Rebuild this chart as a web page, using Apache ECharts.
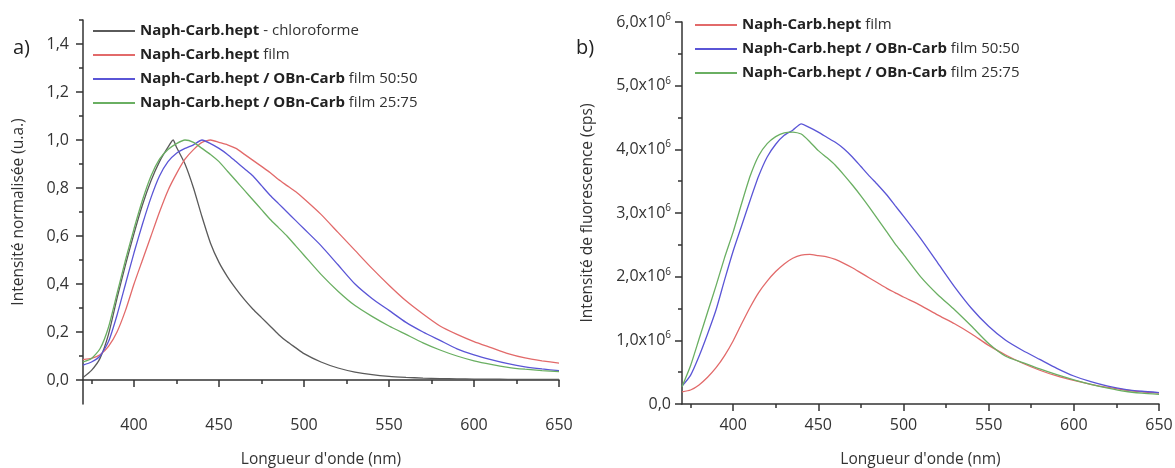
<!DOCTYPE html>
<html><head><meta charset="utf-8">
<script src="https://cdn.jsdelivr.net/npm/echarts@6/dist/echarts.min.js"></script>
<style>html,body{margin:0;padding:0;background:#fff}#c{width:1175px;height:468px}</style>
</head><body><div id="c"></div>
<script>
// Wavelengths (nm)
const wavelengths = [370,375,380,385,390,395,400,405,410,415,420,425,430,435,440,445,450,455,460,465,470,475,480,485,490,495,500,510,520,530,540,550,560,570,580,590,600,610,620,630,640,650];
const chloroWavelengths = [370,375,380,385,390,395,400,405,410,415,420,423,425,430,435,440,445,450,455,460,465,470,475,480,485,490,495,500,510,520,530,540,550,560,570,580,590,600,610,620,630,640,650];

// Chart a) normalized intensity
const aChloro = [0.01,0.04,0.09,0.19,0.34,0.48,0.61,0.73,0.83,0.91,0.97,1.0,0.97,0.90,0.80,0.68,0.57,0.49,0.43,0.38,0.335,0.295,0.26,0.225,0.19,0.16,0.135,0.11,0.075,0.05,0.033,0.022,0.015,0.011,0.008,0.006,0.005,0.004,0.004,0.003,0.003,0.003,0.003];
const aFilm = [0.085,0.09,0.105,0.14,0.20,0.29,0.40,0.50,0.60,0.70,0.79,0.86,0.92,0.96,0.99,1.0,0.99,0.98,0.965,0.94,0.915,0.89,0.865,0.835,0.81,0.785,0.755,0.69,0.615,0.54,0.465,0.395,0.33,0.275,0.225,0.19,0.16,0.135,0.11,0.092,0.08,0.07];
const aMix5050 = [0.062,0.075,0.10,0.16,0.27,0.40,0.53,0.65,0.76,0.85,0.91,0.945,0.965,0.98,1.0,0.985,0.965,0.94,0.91,0.88,0.85,0.81,0.77,0.735,0.70,0.665,0.63,0.56,0.48,0.40,0.34,0.29,0.24,0.20,0.165,0.13,0.105,0.085,0.068,0.055,0.046,0.039];
const aMix2575 = [0.075,0.09,0.13,0.22,0.36,0.50,0.63,0.75,0.85,0.92,0.96,0.985,1.0,0.99,0.965,0.94,0.91,0.87,0.83,0.79,0.75,0.71,0.67,0.635,0.60,0.56,0.52,0.44,0.37,0.31,0.265,0.225,0.19,0.155,0.125,0.10,0.08,0.065,0.053,0.045,0.039,0.035];

// Chart b) fluorescence intensity (x10^6 cps)
const bFilm = [0.19,0.22,0.30,0.42,0.57,0.76,0.99,1.26,1.52,1.75,1.93,2.08,2.20,2.29,2.34,2.35,2.33,2.31,2.27,2.21,2.14,2.06,1.98,1.90,1.82,1.75,1.68,1.55,1.40,1.26,1.10,0.92,0.77,0.64,0.53,0.44,0.37,0.31,0.26,0.22,0.19,0.17];
const bMix5050 = [0.28,0.45,0.75,1.10,1.48,1.95,2.40,2.80,3.20,3.58,3.88,4.08,4.22,4.30,4.40,4.34,4.27,4.19,4.11,4.01,3.88,3.73,3.58,3.44,3.29,3.12,2.95,2.60,2.22,1.84,1.50,1.22,1.00,0.84,0.70,0.56,0.44,0.35,0.28,0.23,0.20,0.18];
const bMix2575 = [0.27,0.60,1.02,1.44,1.86,2.30,2.70,3.15,3.58,3.90,4.09,4.20,4.26,4.27,4.24,4.12,3.98,3.87,3.75,3.60,3.44,3.27,3.09,2.90,2.71,2.52,2.35,2.00,1.72,1.48,1.22,0.95,0.75,0.65,0.55,0.46,0.38,0.31,0.25,0.20,0.17,0.15];

const xMajor = [400,450,500,550,600,650];
const xMinor = [375,425,475,525,575,625];
const aYMajor = [0,0.2,0.4,0.6,0.8,1.0,1.2,1.4];
const aYMinor = [0.1,0.3,0.5,0.7,0.9,1.1,1.3,1.5];
const bYMajor = [0,1,2,3,4,5,6];
const bYMinor = [0.5,1.5,2.5,3.5,4.5,5.5];

const names = {
  chloro: 'Naph-Carb.hept - chloroforme',
  film: 'Naph-Carb.hept film',
  m5050: 'Naph-Carb.hept / OBn-Carb film 50:50',
  m2575: 'Naph-Carb.hept / OBn-Carb film 25:75'
};
const legendFmt = {};
legendFmt[names.chloro] = '{b|Naph-Carb.hept} - chloroforme';
legendFmt[names.film] = '{b|Naph-Carb.hept} film';
legendFmt[names.m5050] = '{b|Naph-Carb.hept / OBn-Carb} film 50:50';
legendFmt[names.m2575] = '{b|Naph-Carb.hept / OBn-Carb} film 25:75';

const C = {chloro:'#5a5a5a', film:'#e26a6a', m5050:'#5a55d6', m2575:'#6aaf62'};
const FONT = 'Open Sans';
const AX = '#333';
const TICKFS = 16;
const NAMEFS = 15.5;

function pairs(xs, vals){ return xs.map((w,i)=>[w, vals[i]]); }
function comma(v, d){ return v.toFixed(d).replace('.', ','); }

const chart = echarts.init(document.getElementById('c'), null, {renderer:'canvas'});

const gA = {left:83, top:20, width:476, height:384, containLabel:false, outerBoundsMode:'none'};
const gB = {left:682, top:22, width:477, height:382, containLabel:false, outerBoundsMode:'none'};

function mainX(grid){
  return {type:'value', gridIndex:grid, min:370, max:650, position:'bottom',
     axisLine:{show:true, lineStyle:{color:AX, width:1.5}},
     axisTick:{show:true, length:7, customValues:xMajor, lineStyle:{color:AX, width:1.5}},
     axisLabel:{customValues:xMajor, color:AX, fontSize:TICKFS, fontFamily:FONT, margin:13},
     splitLine:{show:false},
     name:"Longueur d'onde (nm)", nameLocation:'middle', nameGap:48,
     nameTextStyle:{color:AX, fontSize:NAMEFS, fontFamily:FONT}};
}
function minorX(grid){
  return {type:'value', gridIndex:grid, min:370, max:650, position:'bottom',
     axisLine:{show:false},
     axisTick:{show:true, length:4, customValues:xMinor, lineStyle:{color:AX, width:1.5}},
     axisLabel:{show:false}, splitLine:{show:false}};
}

const option = {
  animation:false,
  textStyle:{fontFamily:FONT},
  title:[
    {text:'a)', left:8, top:33, textStyle:{fontSize:20, fontWeight:'normal', color:'#222', fontFamily:FONT}},
    {text:'b)', left:571, top:33, textStyle:{fontSize:20, fontWeight:'normal', color:'#222', fontFamily:FONT}}
  ],
  grid:[gA, gB, Object.assign({}, gA), Object.assign({}, gB)],
  legend:[
    {data:[names.chloro, names.film, names.m5050, names.m2575], left:88, top:17, orient:'vertical',
     itemWidth:42, itemHeight:2, itemGap:6, icon:'rect',
     formatter:n=>legendFmt[n],
     textStyle:{color:'#333', fontSize:15, fontFamily:FONT, lineHeight:18,
       rich:{b:{fontWeight:'bold', color:'#222', fontSize:15, fontFamily:FONT, lineHeight:18}}}},
    {data:[names.film+' ', names.m5050+' ', names.m2575+' '], left:690, top:11, orient:'vertical',
     itemWidth:42, itemHeight:2, itemGap:6, icon:'rect',
     formatter:n=>legendFmt[n.trim()],
     textStyle:{color:'#333', fontSize:15, fontFamily:FONT, lineHeight:18,
       rich:{b:{fontWeight:'bold', color:'#222', fontSize:15, fontFamily:FONT, lineHeight:18}}}}
  ],
  xAxis:[mainX(0), mainX(1), minorX(2), minorX(3)],
  yAxis:[
    {type:'value', gridIndex:0, min:-0.1, max:1.5, position:'left',
     axisLine:{show:true, lineStyle:{color:AX, width:1.5}},
     axisTick:{show:true, length:7, customValues:aYMajor, lineStyle:{color:AX, width:1.5}},
     axisLabel:{customValues:aYMajor, color:AX, fontSize:TICKFS, fontFamily:FONT, margin:14, formatter:v=>comma(v,1)},
     splitLine:{show:false},
     name:'Intensité normalisée (u.a.)', nameLocation:'middle', nameGap:56,
     nameTextStyle:{color:AX, fontSize:NAMEFS, fontFamily:FONT}},
    {type:'value', gridIndex:1, min:0, max:6, position:'left',
     axisLine:{show:true, lineStyle:{color:AX, width:1.5}},
     axisTick:{show:true, length:7, customValues:bYMajor, lineStyle:{color:AX, width:1.5}},
     axisLabel:{customValues:bYMajor, color:AX, fontSize:TICKFS, fontFamily:FONT, margin:11,
       formatter:v=> v===0 ? '{m|0,0}' : '{m|'+comma(v,1)+'x10}{s|6}',
       rich:{m:{fontSize:TICKFS, fontFamily:FONT, color:AX}, s:{fontSize:10, fontFamily:FONT, color:AX, verticalAlign:'bottom', padding:[0,0,10,0]}}},
     splitLine:{show:false},
     name:'Intensité de fluorescence (cps)', nameLocation:'middle', nameGap:86,
     nameTextStyle:{color:AX, fontSize:NAMEFS, fontFamily:FONT}},
    {type:'value', gridIndex:2, min:-0.1, max:1.5, position:'left',
     axisLine:{show:false},
     axisTick:{show:true, length:4, customValues:aYMinor, lineStyle:{color:AX, width:1.5}},
     axisLabel:{show:false}, splitLine:{show:false}},
    {type:'value', gridIndex:3, min:0, max:6, position:'left',
     axisLine:{show:false},
     axisTick:{show:true, length:4, customValues:bYMinor, lineStyle:{color:AX, width:1.5}},
     axisLabel:{show:false}, splitLine:{show:false}}
  ],
  series:[
    {name:names.chloro, type:'line', xAxisIndex:0, yAxisIndex:0, data:pairs(chloroWavelengths, aChloro), smooth:0.2, showSymbol:false, color:C.chloro, lineStyle:{width:1.3}},
    {name:names.film, type:'line', xAxisIndex:0, yAxisIndex:0, data:pairs(wavelengths, aFilm), smooth:0.2, showSymbol:false, color:C.film, lineStyle:{width:1.3}},
    {name:names.m5050, type:'line', xAxisIndex:0, yAxisIndex:0, data:pairs(wavelengths, aMix5050), smooth:0.2, showSymbol:false, color:C.m5050, lineStyle:{width:1.3}},
    {name:names.m2575, type:'line', xAxisIndex:0, yAxisIndex:0, data:pairs(wavelengths, aMix2575), smooth:0.2, showSymbol:false, color:C.m2575, lineStyle:{width:1.3}},
    {name:names.film+' ', type:'line', xAxisIndex:1, yAxisIndex:1, data:pairs(wavelengths, bFilm), smooth:0.2, showSymbol:false, color:C.film, lineStyle:{width:1.3}},
    {name:names.m5050+' ', type:'line', xAxisIndex:1, yAxisIndex:1, data:pairs(wavelengths, bMix5050), smooth:0.2, showSymbol:false, color:C.m5050, lineStyle:{width:1.3}},
    {name:names.m2575+' ', type:'line', xAxisIndex:1, yAxisIndex:1, data:pairs(wavelengths, bMix2575), smooth:0.2, showSymbol:false, color:C.m2575, lineStyle:{width:1.3}}
  ]
};
chart.setOption(option);
</script></body></html>
